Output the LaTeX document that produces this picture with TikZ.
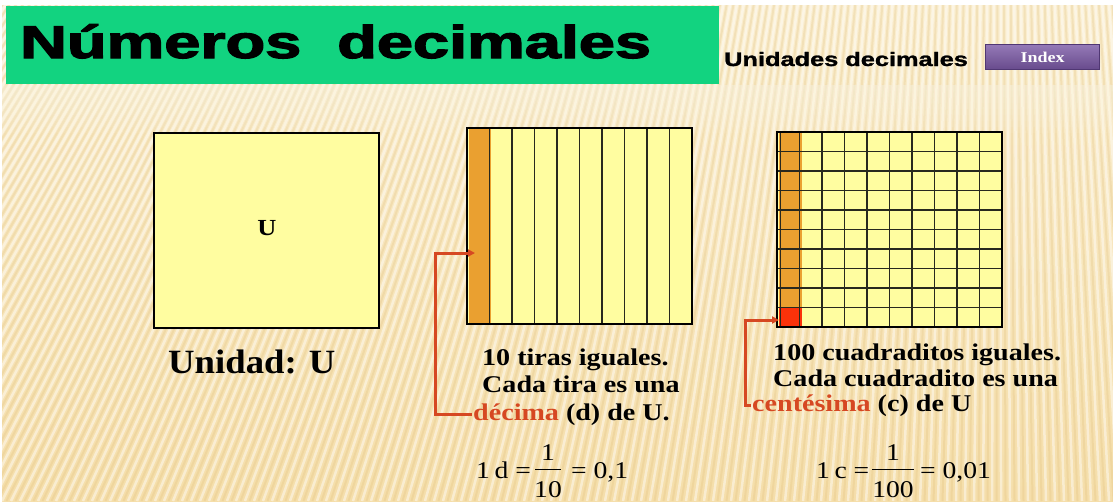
\documentclass[tikz,border=0pt]{standalone}
\usepackage{graphicx}
\usepackage{fontspec}
\setmainfont{Liberation Serif}
\newfontfamily\titlefont[FakeBold=2.5]{Liberation Sans}
\newfontfamily\subfont[FakeBold=1.2]{Liberation Sans}
\usetikzlibrary{arrows.meta}
\definecolor{bgtop}{RGB}{250,238,208}
\definecolor{bgbot}{RGB}{245,222,170}
\definecolor{bannerc}{RGB}{18,211,128}
\definecolor{sqfill}{RGB}{255,253,160}
\definecolor{orangeS}{RGB}{234,160,48}
\definecolor{redcell}{RGB}{250,50,10}
\definecolor{connc}{RGB}{214,72,34}
\definecolor{purp}{RGB}{122,88,165}
\definecolor{purpd}{RGB}{80,55,115}
\definecolor{gridc}{RGB}{40,40,30}
\definecolor{stripeD}{RGB}{222,188,118}
\definecolor{creamc}{RGB}{252,244,222}
\newcommand\sx[1]{\scalebox{1.17}[1]{#1}}
\newcommand\sxf[1]{\scalebox{1.15}[1]{#1}}
\tikzset{
  lbl/.style={anchor=base west, inner sep=0pt, font=\bfseries\fontsize{24}{24}\selectfont},
  fm/.style={inner sep=0pt, font=\fontsize{24}{24}\selectfont},
  connline/.style={draw=connc, line width=3pt},
  gridl/.style={draw=gridc, line width=1.4pt},
  boxb/.style={draw=black, line width=2.2pt},
  arr/.style={-{Triangle[length=7pt,width=7pt]}},
}
\begin{document}
\begin{tikzpicture}[x=1pt,y=-1pt]
\useasboundingbox (0,0) rectangle (1113,501);
% background
\fill[white] (0,0) rectangle (1113,501);
\shade[top color=bgtop, bottom color=bgbot] (2,5) rectangle (1113,501);
\begin{scope}
\clip (2,5) rectangle (1113,501);
\foreach \i in {-700,-691,...,1800} {
  \draw[white, opacity=0.45, line width=2.5pt] (1000,-1500) -- (\i,501);
  \draw[stripeD, opacity=0.25, line width=2pt] (1000,-1500) -- (\i+4.5,501);
}
\foreach \k in {1,...,8} {
  \fill[creamc, opacity=0.1] (2,85) rectangle (1113,85+\k*6);
}
\end{scope}
% banner
\fill[bannerc] (6,6) rectangle (719,84);
\node[anchor=base west, inner sep=0pt, font=\titlefont\bfseries\fontsize{46}{46}\selectfont] (title) at (20,58) {\scalebox{1.41}[1]{Números\ \ decimales}};
\node[anchor=base west, inner sep=0pt, font=\subfont\bfseries\fontsize{19.5}{19.5}\selectfont] (sub) at (724,66) {\scalebox{1.3}[1]{Unidades decimales}};
% index button
\node[anchor=north west, minimum width=114pt, minimum height=25pt, inner sep=0pt,
  top color=purp!80!white, bottom color=purp!85!black, draw=purpd, line width=1pt,
  font=\bfseries\fontsize{15}{15}\selectfont, text=white] (index) at (985,44) {\scalebox{1.2}[1]{Index}};
% left square
\node[anchor=north west, minimum width=225pt, minimum height=195pt, inner sep=0pt, fill=sqfill, boxb] (unit) at (153,132) {};
\node[anchor=base, inner sep=0pt, font=\bfseries\fontsize{23}{23}\selectfont] (ulbl) at (267,235) {\scalebox{1.15}[1]{U}};
\node[anchor=base west, inner sep=0pt, font=\bfseries\fontsize{34}{34}\selectfont] (unidad) at (168,373) {\scalebox{1.08}[1]{Unidad: U}};
% middle square
\fill[sqfill] (467,128) rectangle (692,324);
\node[anchor=north west, minimum width=22pt, minimum height=194pt, inner sep=0pt, fill=orangeS] (strip1) at (469,129) {};
\foreach \j in {1,...,9} {
  \draw[gridl] (467+\j*22.5,128) -- (467+\j*22.5,324);
}
\draw[boxb] (467,128) rectangle (692,324);
% right square
\fill[sqfill] (777,132) rectangle (1002,327);
\node[anchor=north west, minimum width=23pt, minimum height=175.5pt, inner sep=0pt, fill=orangeS] (strip2) at (779,132) {};
\node[anchor=north west, minimum width=23pt, minimum height=19.5pt, inner sep=0pt, fill=redcell] (cell) at (779,307.5) {};
\foreach \j in {1,...,9} {
  \draw[gridl] (777+\j*22.5,132) -- (777+\j*22.5,327);
  \draw[gridl] (777,132+\j*19.5) -- (1002,132+\j*19.5);
}
\draw[gridc, line width=0.8pt] (780.5,132) -- (780.5,327);
\draw[boxb] (777,132) rectangle (1002,327);
% middle texts
\node[lbl] (t1a) at (482,365) {\sx{10 tiras iguales.}};
\node[lbl] (t1b) at (482,392) {\sx{Cada tira es una}};
\node[lbl] (t1c) at (473,420) {\sx{\textcolor{connc}{décima} (d) de U.}};
% right texts
\node[lbl] (t2a) at (773,360) {\sx{100 cuadraditos iguales.}};
\node[lbl] (t2b) at (773,386) {\sx{Cada cuadradito es una}};
\node[lbl] (t2c) at (752,411) {\sx{\textcolor{connc}{centésima} (c) de U}};
% connectors
\coordinate (a1) at (475,253);
\coordinate (k1) at (435,0);
\draw[connline, arr] ([xshift=-1pt]t1c.west) -- (t1c.west -| k1) -- (k1 |- a1) -- (a1);
\coordinate (a2) at (779,320);
\coordinate (k2) at (745,0);
\draw[connline, arr] ([xshift=-1pt]t2c.west) -- (t2c.west -| k2) -- (k2 |- a2) -- (a2);
% formula 1
\node[fm, anchor=base west] (f1a) at (476,478) {\sxf{1\,d =}};
\node[fm, anchor=base] (f1n) at (548,460) {\sxf{1}};
\node[fm, anchor=base] (f1d) at (548,497) {\sxf{10}};
\draw[line width=1pt] (535,469) -- (561,469);
\node[fm, anchor=base west] (f1b) at (571,478) {\sxf{= 0,1}};
% formula 2
\node[fm, anchor=base west] (f2a) at (816,478) {\sxf{1\,c =}};
\node[fm, anchor=base] (f2n) at (893,460) {\sxf{1}};
\node[fm, anchor=base] (f2d) at (893,497) {\sxf{100}};
\draw[line width=1pt] (872,469) -- (914,469);
\node[fm, anchor=base west] (f2b) at (920,478) {\sxf{= 0,01}};
\end{tikzpicture}
\end{document}
